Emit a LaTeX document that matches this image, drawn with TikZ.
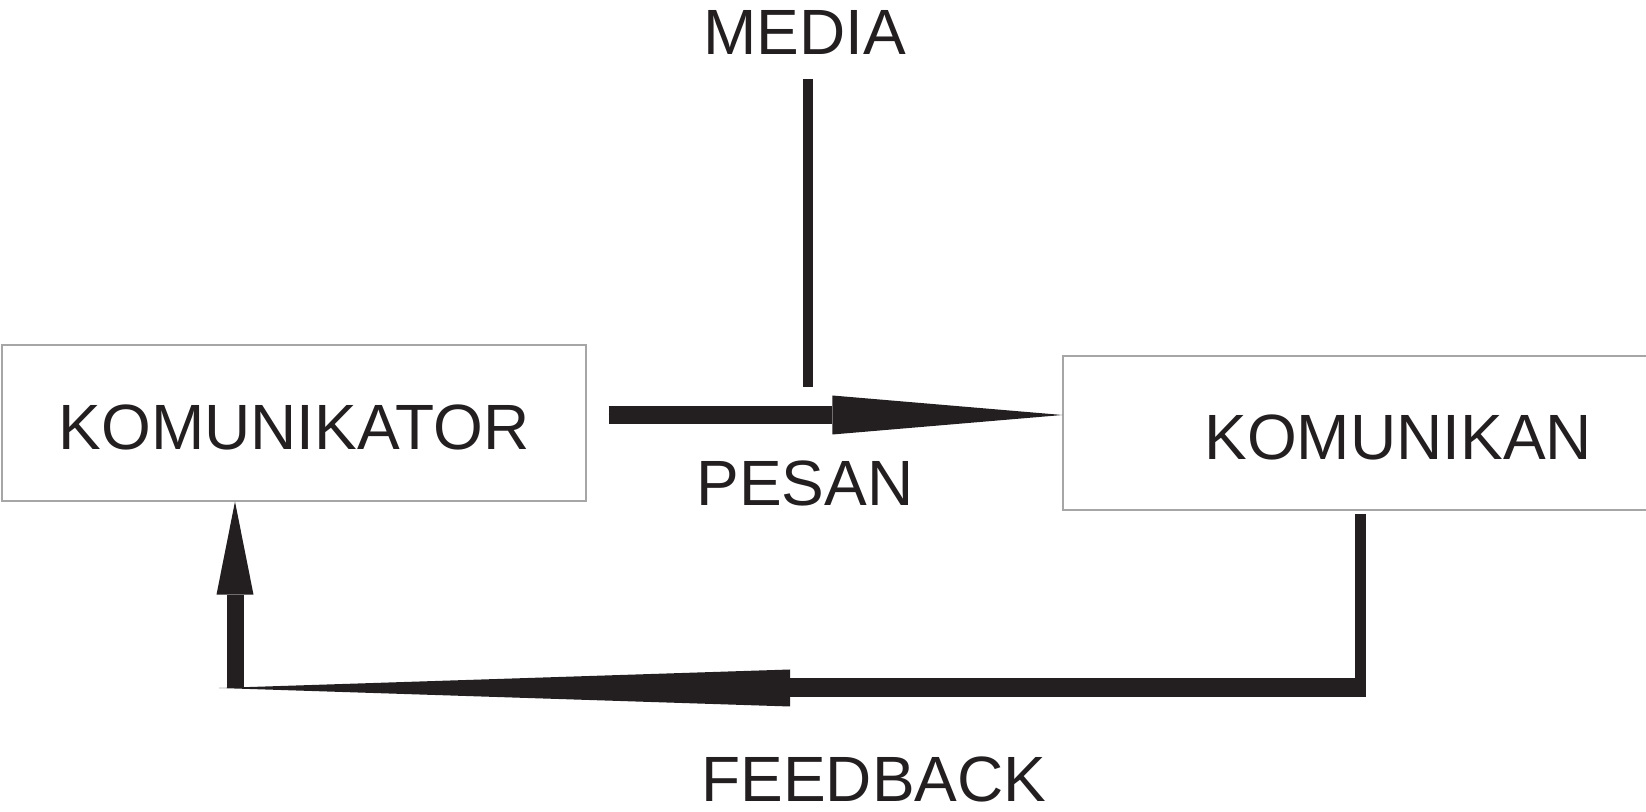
\documentclass[tikz,border=0pt]{standalone}
\usepackage{fontspec}
\setmainfont{Liberation Sans}
\usetikzlibrary{arrows.meta}
\definecolor{ink}{HTML}{231F20}

\begin{document}
\begin{tikzpicture}
    [x=0.5pt,y=-0.5pt,
    every node/.style={font=\fontsize{32}{36}\selectfont,text=ink},
    box/.style={rectangle,draw=black!35,line width=0.6pt,
                minimum height=78pt,text height=26.5pt,text depth=0pt},
    word/.style={inner sep=0pt,anchor=base},
    stem/.style={draw=ink,line width=5pt},
    drop/.style={draw=ink,line width=5.5pt},
    pesan arrow/.style={-{Triangle[length=115pt,width=19.5pt,line width=0pt]},
                        draw=ink,fill=ink,line width=9pt},
    back arrow/.style={-{Triangle[length=285.5pt,width=18.5pt,line width=0pt]},
                       draw=ink,fill=ink,line width=9.5pt},
    up arrow/.style={-{Triangle[length=46.5pt,width=18.5pt,line width=0pt]},
                     draw=ink,fill=ink,line width=8.5pt}]

    \useasboundingbox (0,0) rectangle (1646,812);

    \node[box,minimum width=292pt] (komunikator) at (294,423) {KOMUNIKATOR};
    \node[box,minimum height=77pt,text width=234.5pt,inner xsep=30pt,
          align=right] (komunikan) at (1357.5,433) {KOMUNIKAN};

    \node[word] (media)    at (805,55)  {MEDIA};
    \node[word] (pesan)    at (805,506) {PESAN};
    \node[word] (feedback) at (874,802) {FEEDBACK};

    \coordinate (tap)    at (808,387);
    \coordinate (corner) at (1365.5,688);
    \coordinate (fbtip)  at (219,688);
    \coordinate (upfoot) at (235,688);

    % media line down to the message arrow
    \draw[stem] ([xshift=1.5pt,yshift=-12pt]media.base) -- (tap);
    \draw[pesan arrow] ([shift={(11pt,4pt)}]komunikator.east)
        -- ([yshift=9pt]komunikan.west);

    % feedback loop
    \draw[drop] ([shift={(1.25pt,-1.5pt)}]komunikan.south)
        -- ([shift={(-2.75pt,-4.5pt)}]corner);
    \draw[back arrow] (corner) -- (fbtip);
    \draw[up arrow] (upfoot) -- ([xshift=-29.5pt]komunikator.south);
\end{tikzpicture}
\end{document}
